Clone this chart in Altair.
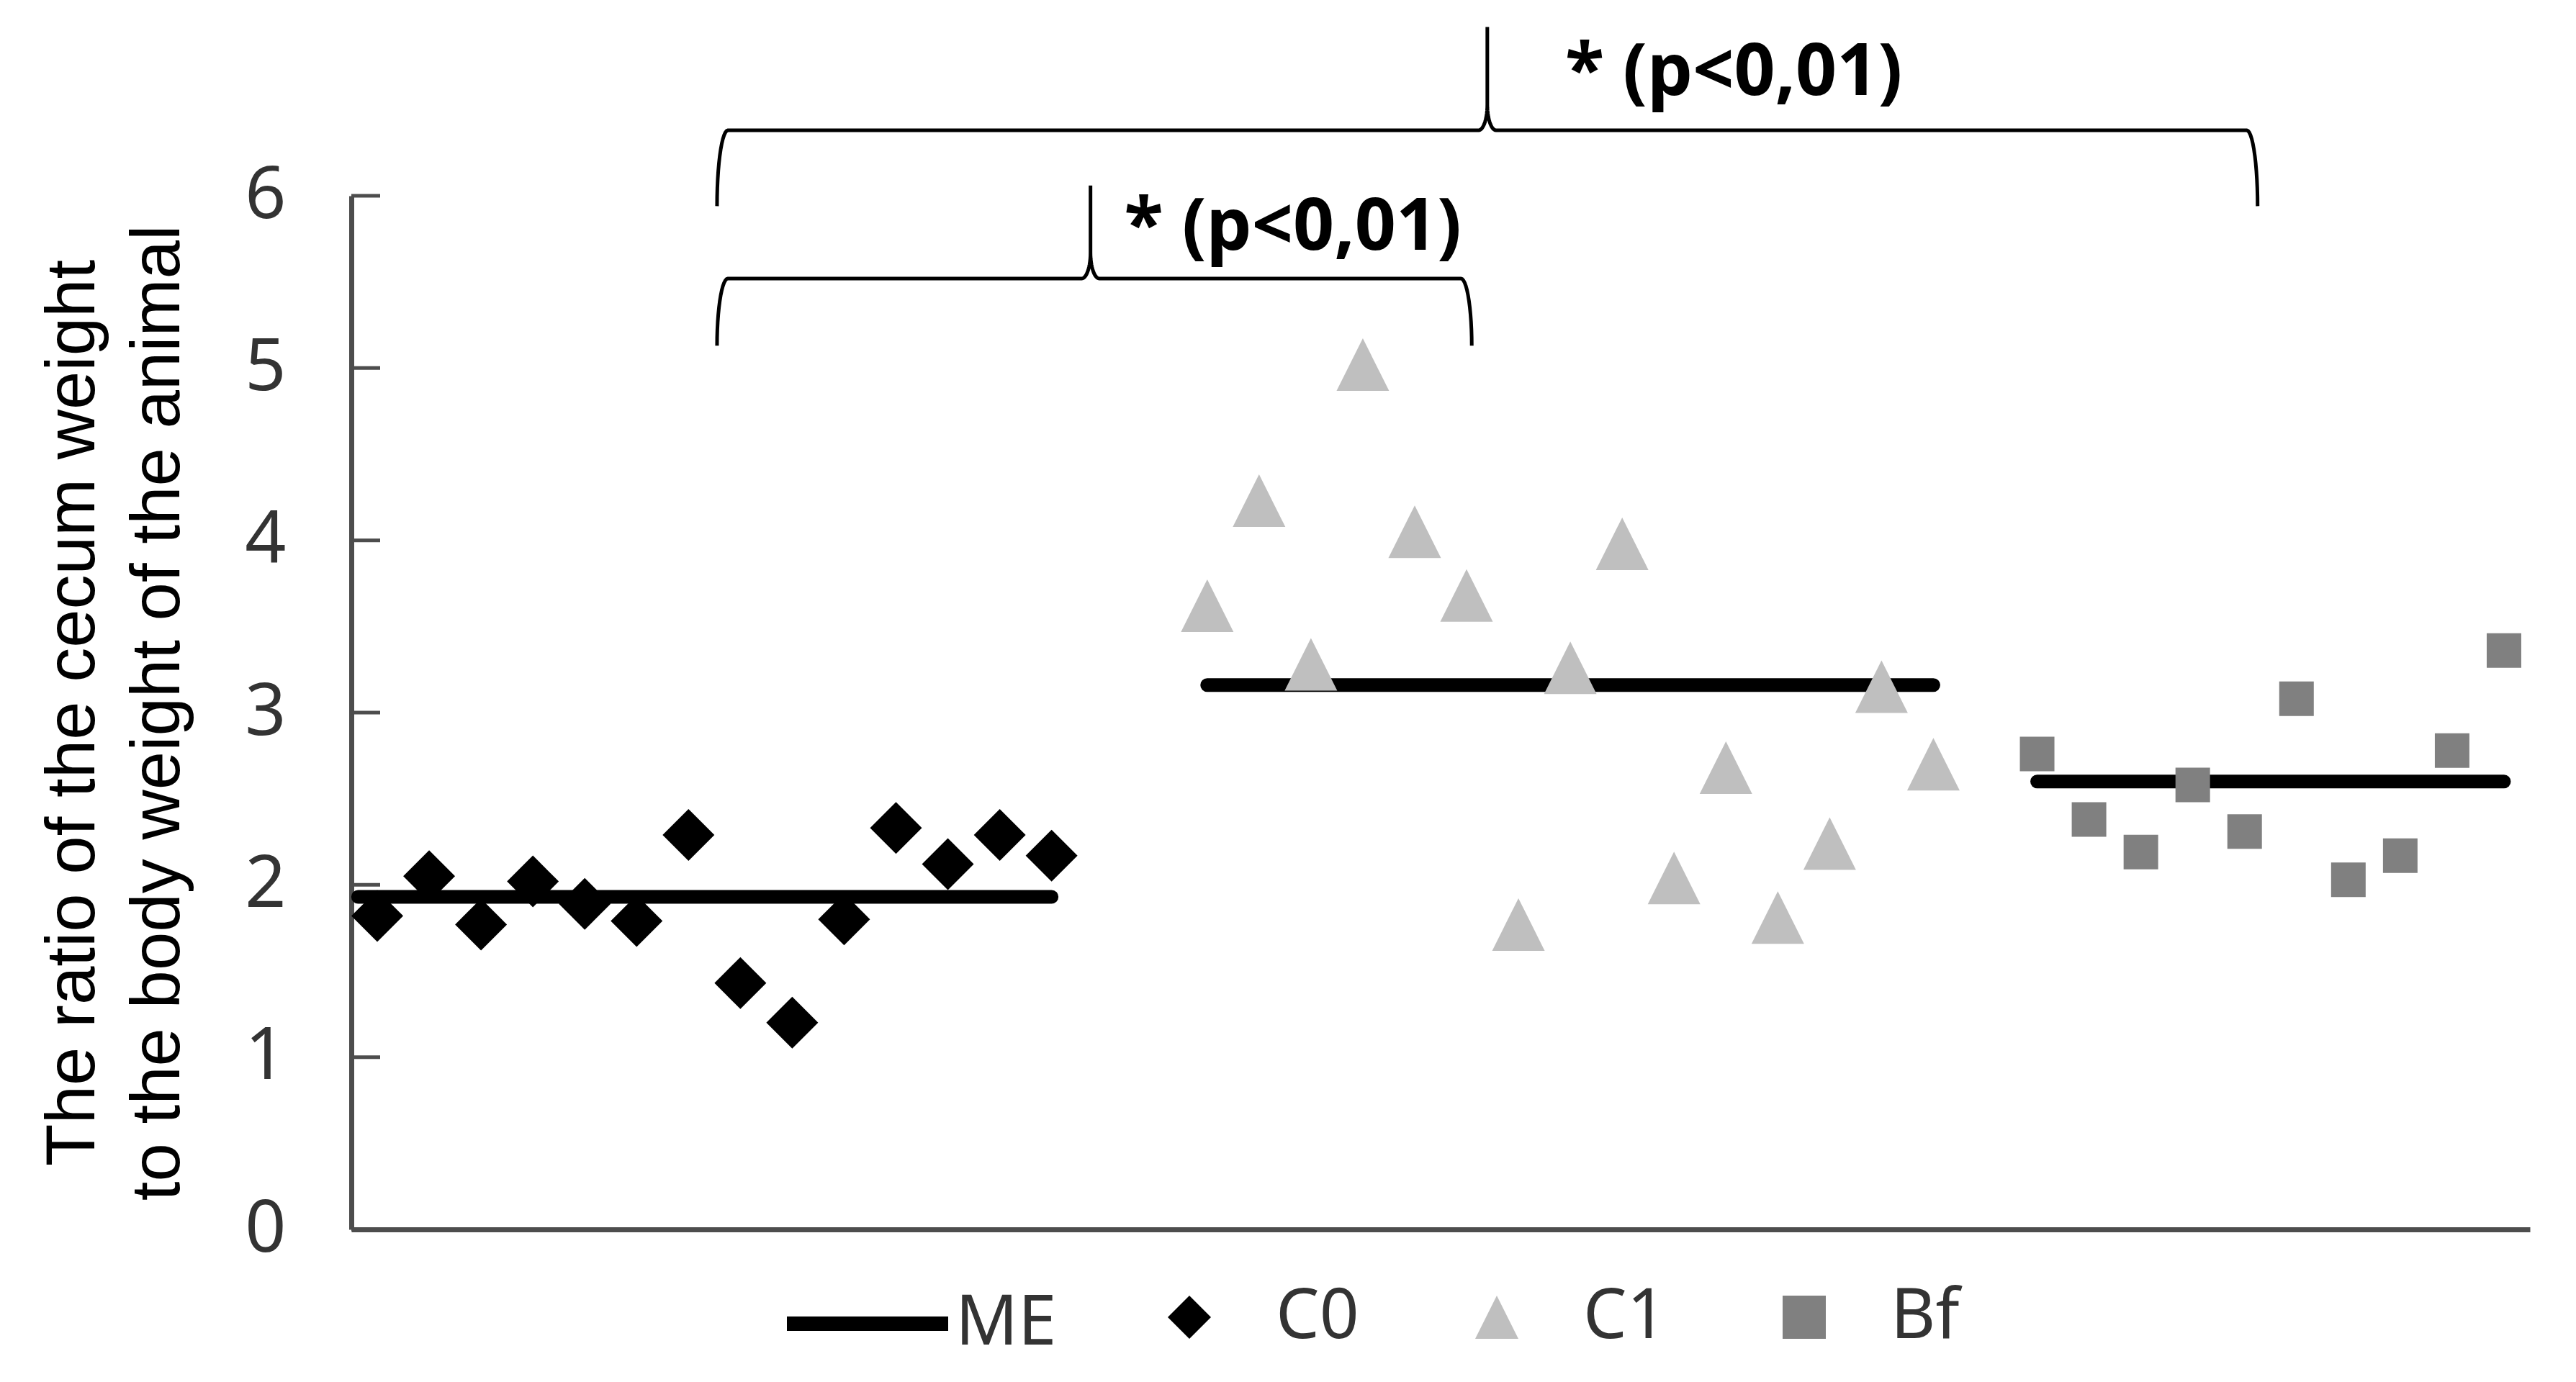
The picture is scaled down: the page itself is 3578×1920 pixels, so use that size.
import altair as alt
import pandas as pd
import numpy as np

# ---------------- data ----------------
groups = ["C0", "C1", "Bf"]
group_colors = ["#000000", "#bfbfbf", "#808080"]
group_sizes = [5184, 5329, 2304]

c0_x = list(range(1, 15))
c0_y = [1.82, 2.05, 1.77, 2.02, 1.89, 1.79, 2.29, 1.43, 1.20, 1.80, 2.33, 2.12, 2.29, 2.17]
c1_x = list(range(17, 32))
c1_y = [3.62, 4.23, 3.28, 5.02, 4.05, 3.68, 1.77, 3.26, 3.98, 2.04, 2.68, 1.81, 2.24, 3.15, 2.70]
bf_x = list(range(33, 43))
bf_y = [2.76, 2.38, 2.19, 2.58, 2.31, 3.08, 2.03, 2.17, 2.78, 3.36]

# mean (ME) lines
me_start = [0.63, 17, 33]
me_end = [14, 31, 42]
me_val = [1.93, 3.16, 2.60]

# significance braces
br_left = [7.55, 7.55]
br_right = [22.1, 37.25]
br_mid = [14.75, 22.4]
br_level = [5.52, 6.38]
br_foot = [5.13, 5.94]
br_peak = [6.06, 6.98]
br_text = ["* (p<0,01)", "* (p<0,01)"]
br_text_x = [15.4, 23.9]
br_text_y = [5.81, 6.71]

y_ticks = [0, 1, 2, 3, 4, 5, 6]
y_title = ["The ratio of the cecum weight", "to the body weight of the animal"]

# ---------------- tables ----------------
pts = pd.DataFrame({
    "x": c0_x + c1_x + bf_x,
    "y": c0_y + c1_y + bf_y,
    "group": ["C0"] * len(c0_x) + ["C1"] * len(c1_x) + ["Bf"] * len(bf_x),
})

me_rows = []
for g, a, b, v in zip(groups, me_start, me_end, me_val):
    me_rows.append({"x": a, "y": v, "g": g, "series": "ME"})
    me_rows.append({"x": b, "y": v, "g": g, "series": "ME"})
me = pd.DataFrame(me_rows)


def brace(xl, xr, xm, yh, yb, yt, n=14):
    rx = 0.21
    cx, cy = 0.17, 0.15
    t = np.linspace(0, np.pi / 2, n)
    p = []
    for a in t:
        p.append((xl + rx - rx * np.cos(a), yb + (yh - yb) * np.sin(a)))
    for a in t:
        p.append((xm - cx + cx * np.sin(a), yh + cy - cy * np.cos(a)))
    p.append((xm, yt))
    for a in t[::-1]:
        p.append((xm + cx - cx * np.sin(a), yh + cy - cy * np.cos(a)))
    for a in t[::-1]:
        p.append((xr - rx + rx * np.cos(a), yb + (yh - yb) * np.sin(a)))
    return p


br_rows = []
for i in range(len(br_left)):
    for k, (bx, by) in enumerate(brace(br_left[i], br_right[i], br_mid[i], br_level[i], br_foot[i], br_peak[i])):
        br_rows.append({"x": bx, "y": by, "b": i, "o": k})
brd = pd.DataFrame(br_rows)

txt = pd.DataFrame({"x": br_text_x, "y": br_text_y, "t": br_text})
ticks = pd.DataFrame({"y": y_ticks})

# ---------------- scales / axes ----------------
XS = alt.Scale(domain=[0.5, 42.5], nice=False, zero=False)
YS = alt.Scale(domain=[0, 6], nice=False, zero=False)

xaxis = alt.Axis(labels=False, ticks=False, grid=False, title=None,
                 domainColor="#4d4d4d", domainWidth=7)
yaxis = alt.Axis(values=y_ticks, ticks=False, grid=False,
                 labelFont="Noto Sans", labelFontSize=100, labelColor="#333333",
                 labelPadding=91, domainColor="#4d4d4d", domainWidth=7,
                 title=y_title, titleFont="Liberation Sans", titleFontSize=96,
                 titleFontWeight="normal", titleColor="#000000", titleAngle=270,
                 titleX=-358, titleY=718, titleAlign="center",
                 titleBaseline="alphabetic", titleLineHeight=118)

tri = "M0,-1L1,1L-1,1Z"

pt_legend = alt.Legend(orient="none", legendX=1116, legendY=1510,
                       direction="horizontal", title=None, padding=0,
                       symbolSize=3600, symbolStrokeWidth=0,
                       labelFont="Noto Sans", labelFontSize=96,
                       labelColor="#333333", labelOffset=72,
                       columnPadding=143)

tick_layer = alt.Chart(ticks).mark_rule(stroke="#4d4d4d", strokeWidth=5).encode(
    y=alt.Y("y:Q", scale=YS, axis=yaxis),
    x=alt.value(0), x2=alt.value(40),
)

me_layer = alt.Chart(me).mark_line(strokeWidth=19, strokeCap="round").encode(
    x=alt.X("x:Q", scale=XS, axis=xaxis),
    y=alt.Y("y:Q", scale=YS, axis=yaxis),
    detail="g:N",
    stroke=alt.Stroke("series:N", scale=alt.Scale(domain=["ME"], range=["#000000"]),
                      legend=alt.Legend(orient="none", legendX=595, legendY=1445,
                                        direction="horizontal", title=None, padding=0,
                                        symbolType="stroke", symbolSize=224 * 224,
                                        symbolStrokeWidth=20, symbolStrokeColor="#000000",
                                        labelFont="Noto Sans", labelFontSize=96,
                                        labelColor="#333333", labelOffset=0)),
)

pt_layers = []
for g, s in zip(groups, group_sizes):
    pt_layers.append(
        alt.Chart(pts).transform_filter(alt.datum.group == g)
        .mark_point(filled=True, opacity=1, strokeWidth=0, size=s).encode(
            x=alt.X("x:Q", scale=XS, axis=xaxis),
            y=alt.Y("y:Q", scale=YS, axis=yaxis),
            fill=alt.Fill("group:N", scale=alt.Scale(domain=groups, range=group_colors),
                          legend=pt_legend),
            shape=alt.Shape("group:N", scale=alt.Scale(domain=groups, range=["diamond", tri, "square"]),
                            legend=pt_legend),
        )
    )

br_layer = alt.Chart(brd).mark_line(stroke="#000000", strokeWidth=5).encode(
    x=alt.X("x:Q", scale=XS, axis=xaxis),
    y=alt.Y("y:Q", scale=YS, axis=yaxis),
    detail="b:N",
    order="o:Q",
)

txt_layer = alt.Chart(txt).mark_text(align="left", baseline="middle", font="Noto Sans",
                                     fontWeight="bold", fontSize=100, color="#000000").encode(
    x=alt.X("x:Q", scale=XS, axis=xaxis),
    y=alt.Y("y:Q", scale=YS, axis=yaxis),
    text="t:N",
)

chart = alt.layer(tick_layer, me_layer, *pt_layers, br_layer, txt_layer).properties(
    width=3026, height=1436,
    autosize=alt.AutoSizeParams(type="none"),
    padding={"left": 480, "top": 264, "right": 56, "bottom": 200},
    background="white",
).configure_view(stroke=None)

chart.save("out.html", embed_options={"renderer": "svg", "actions": False})
